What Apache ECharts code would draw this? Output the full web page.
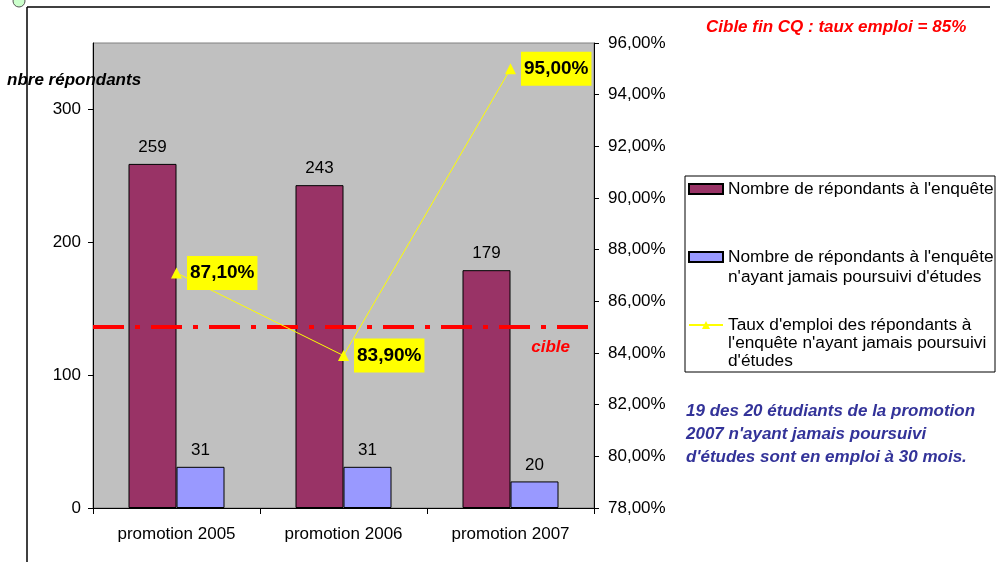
<!DOCTYPE html>
<html>
<head>
<meta charset="utf-8">
<script src="https://cdn.jsdelivr.net/npm/echarts@6/dist/echarts.min.js"></script>
<style>
html,body{margin:0;padding:0;background:#fff}
#chart{width:1002px;height:562px}
</style>
</head>
<body>
<div id="chart"></div>
<script>
var categories = ['promotion 2005', 'promotion 2006', 'promotion 2007'];
var nbRepondants = [259, 243, 179];
var nbSansEtudes = [31, 31, 20];
var tauxEmploi = [87.1, 83.9, 95.0];
var cible = 85;

var nomBarre1 = "Nombre de répondants à l'enquête";
var nomBarre2 = "Nombre de répondants à l'enquête n'ayant jamais poursuivi d'études";
var nomLigne = "Taux d'emploi des répondants à l'enquête n'ayant jamais poursuivi d'études";

var police = "'Liberation Sans', Arial, sans-serif";

var chart = echarts.init(document.getElementById('chart'));

function pct(v) {
  return v.toFixed(2).replace('.', ',') + '%';
}

var option = {
  animation: false,
  backgroundColor: '#fff',
  textStyle: { fontFamily: police },
  grid: {
    left: 93, right: 408, top: 43, bottom: 54,
    show: true,
    backgroundColor: '#C0C0C0',
    borderColor: '#808080',
    borderWidth: 1,
    containLabel: false,
    outerBoundsMode: 'none'
  },
  legend: [
    {
      data: [{ name: nomBarre1, icon: 'rect' }],
      orient: 'vertical',
      left: 688, top: 179,
      padding: 0,
      itemWidth: 34, itemHeight: 10,
      selectedMode: false,
      textStyle: { fontSize: 17.3, color: '#000', fontFamily: police, lineHeight: 20 }
    },
    {
      data: [{ name: nomBarre2, icon: 'rect' }],
      orient: 'vertical',
      left: 688, top: 227,
      padding: 0,
      itemWidth: 34, itemHeight: 10,
      selectedMode: false,
      formatter: function () {
        return " \nNombre de répondants à l'enquête\nn'ayant jamais poursuivi d'études";
      },
      textStyle: { fontSize: 17.3, color: '#000', fontFamily: police, lineHeight: 20 }
    },
    {
      data: [nomLigne],
      orient: 'vertical',
      left: 688, top: 280,
      padding: 0,
      itemWidth: 34, itemHeight: 10,
      selectedMode: false,
      formatter: function () {
        return " \n \nTaux d'emploi des répondants à\nl'enquête n'ayant jamais poursuivi\nd'études";
      },
      textStyle: { fontSize: 17.3, color: '#000', fontFamily: police, lineHeight: 18 }
    }
  ],
  xAxis: {
    type: 'category',
    data: categories,
    boundaryGap: true,
    axisLine: { lineStyle: { color: '#000', width: 1 } },
    axisTick: { show: true, length: 6, alignWithLabel: false, lineStyle: { color: '#000' } },
    axisLabel: { color: '#000', fontSize: 17, margin: 18, fontFamily: police },
    splitLine: { show: false }
  },
  yAxis: [
    {
      type: 'value',
      min: 0, max: 350, interval: 100,
      position: 'left',
      axisLine: { show: true, lineStyle: { color: '#000', width: 1 } },
      axisTick: { show: true, length: 5, lineStyle: { color: '#000' } },
      axisLabel: { color: '#000', fontSize: 17, margin: 12, fontFamily: police, showMaxLabel: false },
      splitLine: { show: false }
    },
    {
      type: 'value',
      min: 78, max: 96, interval: 2,
      position: 'right',
      axisLine: { show: true, lineStyle: { color: '#000', width: 1 } },
      axisTick: { show: true, length: 5, lineStyle: { color: '#000' } },
      axisLabel: { color: '#000', fontSize: 17, margin: 14, fontFamily: police, formatter: pct },
      splitLine: { show: false }
    }
  ],
  series: [
    {
      name: nomBarre1,
      type: 'bar',
      data: nbRepondants,
      barWidth: 48,
      barGap: '0%',
      itemStyle: { color: '#993366', borderColor: '#000', borderWidth: 1 },
      label: { show: true, position: 'top', distance: 8, color: '#000', fontSize: 17, fontFamily: police }
    },
    {
      name: nomBarre2,
      type: 'bar',
      data: nbSansEtudes,
      barWidth: 48,
      barGap: '0%',
      itemStyle: { color: '#9999FF', borderColor: '#000', borderWidth: 1 },
      label: { show: true, position: 'top', distance: 8, color: '#000', fontSize: 17, fontFamily: police }
    },
    {
      name: nomLigne,
      type: 'line',
      yAxisIndex: 1,
      data: tauxEmploi,
      z: 5,
      symbol: 'triangle',
      symbolSize: 11,
      itemStyle: { color: '#FFFF00' },
      lineStyle: { color: '#FFFF00', width: 1 },
      label: {
        show: true,
        position: 'right',
        distance: 5,
        formatter: function (p) { return pct(p.value); },
        color: '#000',
        fontWeight: 'bold',
        fontSize: 19,
        fontFamily: police,
        backgroundColor: '#FFFF00',
        padding: [8, 3, 7, 3]
      },
      markLine: {
        silent: true,
        symbol: 'none',
        z: 4,
        lineStyle: { color: '#FF0000', width: 4, type: [31, 11, 5, 11] },
        label: {
          show: true,
          position: 'insideEndBottom',
          formatter: 'cible',
          color: '#FF0000',
          fontWeight: 'bold',
          fontStyle: 'italic',
          fontSize: 17,
          fontFamily: police,
          distance: [24, 12]
        },
        data: [{ yAxis: cible }]
      }
    }
  ],
  graphic: [
    { type: 'line', shape: { x1: 27, y1: 7, x2: 990, y2: 7 }, style: { stroke: '#000', lineWidth: 1.5 } },
    { type: 'line', shape: { x1: 27, y1: 7, x2: 27, y2: 562 }, style: { stroke: '#000', lineWidth: 1.5 } },
    { type: 'circle', shape: { cx: 19, cy: 1, r: 6 }, style: { fill: '#CCFFCC', stroke: '#555', lineWidth: 1 } },
    { type: 'rect', shape: { x: 685, y: 176, width: 310, height: 196 }, style: { fill: 'none', stroke: '#000', lineWidth: 1 }, z: -1 },
    {
      type: 'text', left: 7, top: 72,
      style: { text: 'nbre répondants', fill: '#000', font: 'italic bold 17px ' + police }
    },
    {
      type: 'text', left: 706, top: 19,
      style: { text: 'Cible fin CQ : taux emploi = 85%', fill: '#FF0000', font: 'italic bold 17px ' + police }
    },
    {
      type: 'text', left: 686, top: 400,
      style: {
        text: "19 des 20 étudiants de la promotion\n2007 n'ayant jamais poursuivi\nd'études sont en emploi à 30 mois.",
        fill: '#333399',
        font: 'italic bold 17px ' + police,
        lineHeight: 23
      }
    }
  ]
};

chart.setOption(option);
</script>
</body>
</html>
